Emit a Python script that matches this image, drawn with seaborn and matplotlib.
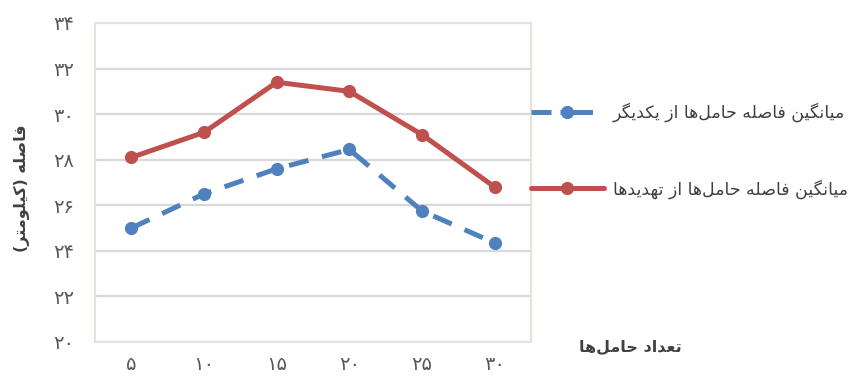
import matplotlib
matplotlib.use("Agg")
import matplotlib.pyplot as plt
import seaborn as sns
import pandas as pd
from matplotlib.lines import Line2D

# ---- data ----
carriers = ["۵", "۱۰", "۱۵", "۲۰", "۲۵", "۳۰"]
dist_between = [25.0, 26.5, 27.6, 28.45, 25.75, 24.35]
dist_threats = [28.1, 29.2, 31.4, 31.0, 29.1, 26.8]
series_names = ["میانگین فاصله حامل‌ها از یکدیگر", "میانگین فاصله حامل‌ها از تهدیدها"]
x_title = "تعداد حامل‌ها"
y_title = "فاصله (کیلومتر)"
y_ticks = list(range(20, 35, 2))

# ---- minimal Persian shaping (presentation forms + visual RTL order) ----
FORMS = {
    "ا": (0xFE8D, 0xFE8E, None, None),
    "د": (0xFEA9, 0xFEAA, None, None),
    "ر": (0xFEAD, 0xFEAE, None, None),
    "ز": (0xFEAF, 0xFEB0, None, None),
    "و": (0xFEED, 0xFEEE, None, None),
    "ت": (0xFE95, 0xFE96, 0xFE97, 0xFE98),
    "ح": (0xFEA1, 0xFEA2, 0xFEA3, 0xFEA4),
    "ص": (0xFEB9, 0xFEBA, 0xFEBB, 0xFEBC),
    "ع": (0xFEC9, 0xFECA, 0xFECB, 0xFECC),
    "ف": (0xFED1, 0xFED2, 0xFED3, 0xFED4),
    "ل": (0xFEDD, 0xFEDE, 0xFEDF, 0xFEE0),
    "م": (0xFEE1, 0xFEE2, 0xFEE3, 0xFEE4),
    "ن": (0xFEE5, 0xFEE6, 0xFEE7, 0xFEE8),
    "ه": (0xFEE9, 0xFEEA, 0xFEEB, 0xFEEC),
    "ی": (0xFBFC, 0xFBFD, 0xFBFE, 0xFBFF),
    "ک": (0xFB8E, 0xFB8F, 0xFB90, 0xFB91),
    "گ": (0xFB92, 0xFB93, 0xFB94, 0xFB95),
}


def shape_fa(text):
    chars = list(text)
    out = []
    for i, c in enumerate(chars):
        if c not in FORMS:
            out.append(c)
            continue
        prev = chars[i - 1] if i > 0 else None
        nxt = chars[i + 1] if i + 1 < len(chars) else None
        iso, fin, ini, med = FORMS[c]
        join_prev = prev in FORMS and FORMS[prev][2] is not None
        join_next = ini is not None and nxt in FORMS
        if join_prev and join_next:
            g = med
        elif join_prev:
            g = fin
        elif join_next:
            g = ini
        else:
            g = iso
        out.append(chr(g))
    s = "".join(out).replace("\u200c", "")[::-1]
    return s.translate(str.maketrans("()", ")("))


def fa_digits(n):
    return str(n).translate(str.maketrans("0123456789", "۰۱۲۳۴۵۶۷۸۹"))


df = pd.DataFrame({
    "carriers": carriers * 2,
    "distance": dist_between + dist_threats,
    "series": [series_names[0]] * len(carriers) + [series_names[1]] * len(carriers),
})

sns.set_style("white")
plt.rcParams["font.family"] = ["DejaVu Sans"]

blue = "#4F81BD"
red = "#C0504D"
grid_c = "#D9D9D9"
frame_c = "#E6E3D8"
text_c = "#404040"
tick_c = "#595959"
lw = 3.6
dash = (4.0, 2.8)
ms = 9.5

fig = plt.figure(figsize=(8.54, 3.76), dpi=100)
ax = fig.add_axes([95 / 854, 34 / 376, 436 / 854, 319 / 376])

sns.lineplot(data=df[df.series == series_names[1]], x="carriers", y="distance",
             ax=ax, color=red, lw=lw, marker="o", markersize=ms,
             markeredgewidth=0, sort=False, legend=False)
sns.lineplot(data=df[df.series == series_names[0]], x="carriers", y="distance",
             ax=ax, color=blue, lw=lw, marker="o", markersize=ms,
             markeredgewidth=0, sort=False, legend=False, dashes=dash)

ax.set_xlim(-0.5, len(carriers) - 0.5)
ax.set_ylim(20, 34)
ax.set_yticks(y_ticks)
ax.set_yticklabels([fa_digits(v) for v in y_ticks])
ax.yaxis.grid(True, color=grid_c, lw=1.6)
ax.set_axisbelow(True)
ax.tick_params(axis="both", length=0, labelsize=14, colors=tick_c)
ax.tick_params(axis="y", pad=15)
ax.tick_params(axis="x", pad=9)
ax.set_xlabel("")
ax.set_ylabel("")
for sp in ax.spines.values():
    sp.set_visible(True)
    sp.set_color(frame_c)
    sp.set_linewidth(1.5)

fig.text(22 / 854, 1 - 188 / 376, shape_fa(y_title), rotation=90, ha="center",
         va="center", fontsize=11.5, fontweight="bold", color=text_c)
fig.text(682 / 854, 1 - 347 / 376, shape_fa(x_title), ha="right",
         va="center", fontsize=11.5, fontweight="bold", color=text_c)

# legend keys: short dash then a solid stroke through the marker
handles = [
    Line2D([], [], color=blue, lw=lw, dashes=(4.0, 1.8, 6.5, 20), marker="o",
           markersize=ms, markeredgewidth=0),
    Line2D([], [], color=red, lw=lw, marker="o", markersize=ms,
           markeredgewidth=0),
]
ax.legend(handles, [shape_fa(s) for s in series_names], loc="center left",
          bbox_to_anchor=(1.0, 0.60), frameon=False, fontsize=12.5,
          handlelength=4.2, handletextpad=0.5, labelspacing=3.3,
          borderaxespad=0, borderpad=0, numpoints=1, labelcolor=text_c)

fig.savefig("out.png", dpi=100, facecolor="white")
